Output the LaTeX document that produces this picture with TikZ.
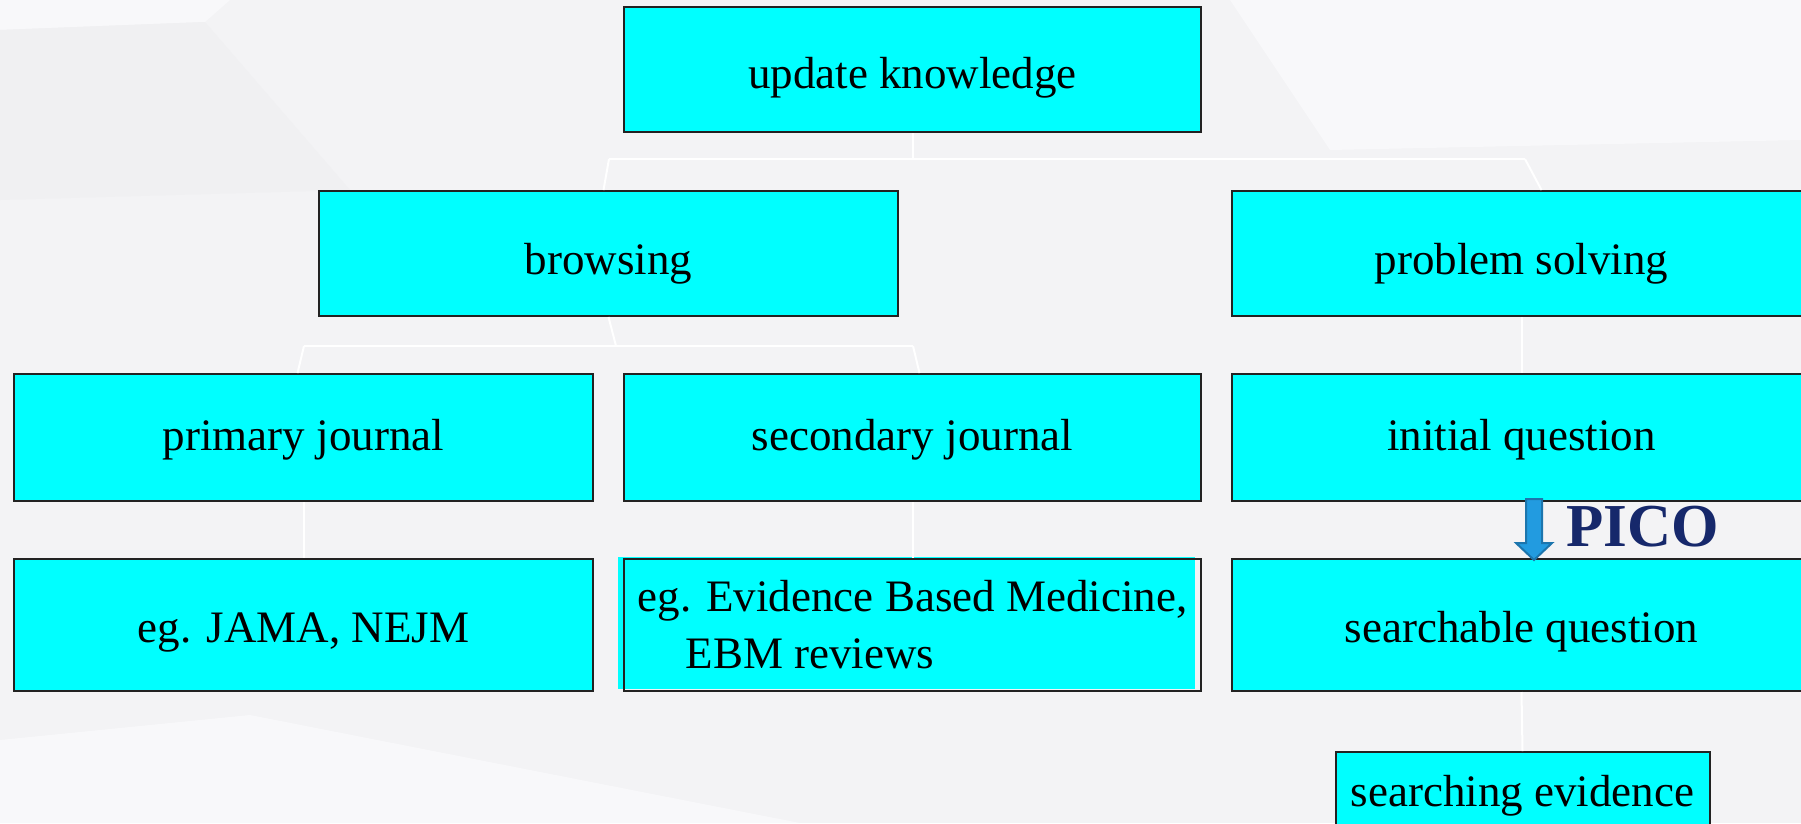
\documentclass[tikz,border=0pt]{standalone}
\usepackage{fontspec}
\setmainfont{Liberation Serif}
\definecolor{bg}{HTML}{F3F3F5}
\definecolor{bglight}{HTML}{F8F8FA}
\definecolor{bgdark}{HTML}{F0F0F2}
\definecolor{boxfill}{HTML}{00FFFF}
\definecolor{boxline}{HTML}{222222}
\definecolor{picoblue}{HTML}{16286B}
\definecolor{arrowfill}{HTML}{229BE0}
\definecolor{arrowline}{HTML}{1C75AD}
\tikzset{
  box/.style={rectangle, fill=boxfill, draw=boxline, line width=2pt, inner sep=0pt,
    minimum width=579pt, minimum height=125pt, font=\fontsize{45}{57}\selectfont},
  rowa/.style={text depth=0pt, text height=37pt},
  rowb/.style={text depth=0pt, text height=41pt},
  rowc/.style={text depth=0pt, text height=26pt},
  rowd/.style={text depth=0pt, text height=34pt},
  conn/.style={draw=white, line width=2pt},
}
\begin{document}
\begin{tikzpicture}[x=1pt,y={(0pt,-1pt)}]
\useasboundingbox (0,0) rectangle (1801,823);
\clip (0,0) rectangle (1801,823);
% background
\fill[bg] (0,0) rectangle (1801,823);
\fill[bglight] (0,0) -- (230,0) -- (205,22) -- (0,30) -- cycle;
\fill[bgdark] (0,30) -- (205,22) -- (350,190) -- (0,200) -- cycle;
\fill[bglight] (0,740) -- (250,715) -- (800,823) -- (0,823) -- cycle;
\fill[bglight] (1230,0) -- (1801,0) -- (1801,140) -- (1330,150) -- cycle;

% connector bend points
\coordinate (t1) at (912.5,159);
\coordinate (tl) at (609,159);
\coordinate (tr) at (1525,159);
\coordinate (b1) at (616,346);
\coordinate (bl) at (304,346);
\coordinate (brr) at (913,346);

% nodes
\node[box, rowa, minimum width=577pt] (uk) at (912.5,69.5) {update knowledge};
\node[box, rowb] (br) at (608.5,253.5) {browsing};
\node[box, rowb] (ps) at (1521.5,253.5) {problem solving};
\node[box, rowc, minimum height=127pt] (pj) at (303.5,437.5) {primary journal};
\node[box, rowc, minimum width=577pt, minimum height=127pt] (sj) at (912.5,437.5) {secondary journal};
\node[box, rowc, minimum height=127pt] (iq) at (1521.5,437.5) {initial question};
\node[box, rowd, minimum height=132pt] (jama) at (303.5,625) {eg. JAMA, NEJM};
\fill[boxfill] (618,557) rectangle (1195,689);
\node[box, fill=none, minimum width=577pt, minimum height=132pt, align=left] (ebm) at (912.5,625)
  {eg. Evidence Based Medicine,\\\hspace*{48pt}EBM reviews};
\node[box, rowd, minimum height=132pt] (sq) at (1521.5,625) {searchable question};
\node[box, text depth=0pt, text height=28pt, minimum width=374pt, minimum height=80pt, anchor=north] (se) at (1522.5,751) {searching evidence};

\draw[conn] (uk.south) -- (t1);
\draw[conn] (tl) -- (tr);
\draw[conn] (tl) -- ([xshift=-5pt]br.north);
\draw[conn] (tr) -- ([xshift=20pt]ps.north);
\draw[conn] (br.south) -- (b1);
\draw[conn] (bl) -- (brr);
\draw[conn] (bl) -- ([xshift=-6pt]pj.north);
\draw[conn] (brr) -- ([xshift=7pt]sj.north);
\draw[conn] (pj.south) -- (jama.north);
\draw[conn] (sj.south) -- (ebm.north);
\draw[conn] (ps.south) -- (iq.north);
\draw[conn] (sq.south) -- (se.north);

% PICO arrow
\coordinate (atip) at (1534,560);
\filldraw[fill=arrowfill, draw=arrowline, line width=2pt, line join=miter]
  (1526,499) -- (1542,499) -- (1542,543) -- (1552,543) -- (atip) -- (1516,543) -- (1526,543) -- cycle;
\node[anchor=base west, inner sep=0pt, text=picoblue, font=\fontsize{61}{72}\selectfont\bfseries] (pico) at (1566,546) {PICO};
\end{tikzpicture}
\end{document}
